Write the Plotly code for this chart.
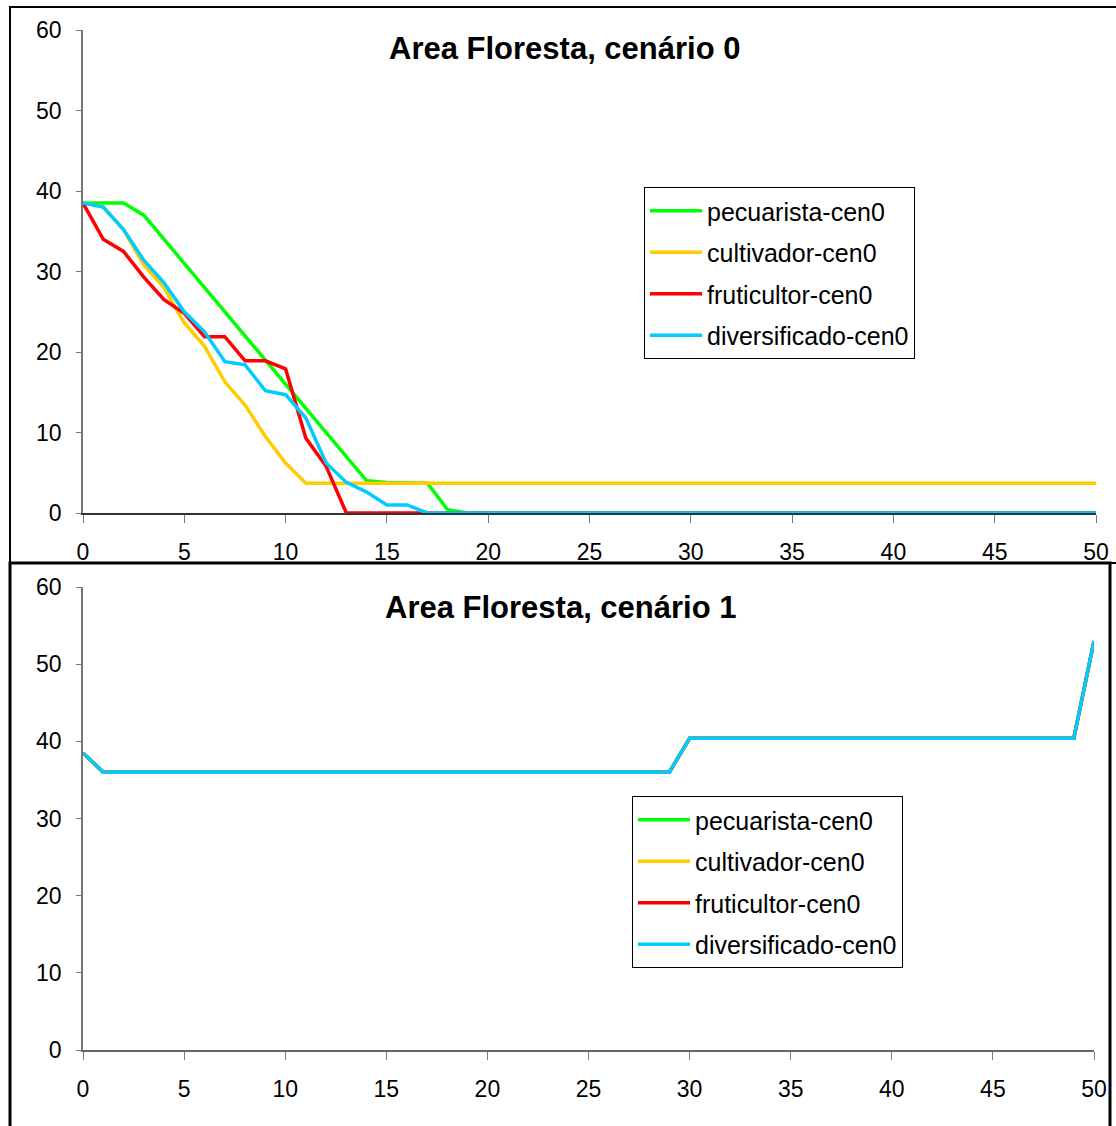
import plotly.graph_objects as go

W, H = 1116, 1126

years = list(range(0, 51))

# Top chart: cenário 0
pecuarista_c0 = [38.5, 38.5, 38.5, 37.0, 34.0, 31.0, 28.0, 25.0, 22.0, 19.0, 16.0, 13.0, 10.0, 7.0, 4.0, 3.8, 3.7, 3.7, 0.4] + [0.0] * 32
cultivador_c0 = [38.5, 38.0, 35.2, 30.8, 28.0, 23.6, 20.7, 16.3, 13.4, 9.5, 6.2, 3.7] + [3.7] * 39
fruticultor_c0 = [38.5, 34.0, 32.5, 29.3, 26.5, 24.8, 21.9, 21.9, 18.9, 18.9, 17.9, 9.3, 5.8] + [0.0] * 38
diversificado_c0 = [38.5, 38.0, 35.2, 31.4, 28.6, 25.0, 22.5, 18.8, 18.4, 15.2, 14.7, 11.8, 6.2, 3.8, 2.6, 1.0, 1.0] + [0.0] * 34

# Bottom chart: cenário 1 (all series coincide)
cen1 = [38.5] + [36.0] * 29 + [40.4] * 20 + [53.0]
pecuarista_c1 = cen1
cultivador_c1 = cen1
fruticultor_c1 = cen1
diversificado_c1 = cen1

names = ["pecuarista-cen0", "cultivador-cen0", "fruticultor-cen0", "diversificado-cen0"]
colors = ["#00FF00", "#FFCC00", "#FF0000", "#00CCFF"]
top_series = [pecuarista_c0, cultivador_c0, fruticultor_c0, diversificado_c0]
bot_series = [pecuarista_c1, cultivador_c1, fruticultor_c1, diversificado_c1]

title0 = "Area Floresta, cenário 0"
title1 = "Area Floresta, cenário 1"

FONT = "Liberation Sans, Arial, sans-serif"

fig = go.Figure()
for i, (n, c, s) in enumerate(zip(names, colors, top_series)):
    fig.add_trace(go.Scatter(x=years, y=s, mode="lines", name=n,
                             line=dict(color=c, width=3.5),
                             xaxis="x", yaxis="y", legend="legend",
                             legendgroup="t%d" % i))
for i, (n, c, s) in enumerate(zip(names, colors, bot_series)):
    fig.add_trace(go.Scatter(x=years, y=s, mode="lines", name=n,
                             line=dict(color=c, width=3.5),
                             xaxis="x2", yaxis="y2", legend="legend2",
                             legendgroup="b%d" % i))

def px(x):
    return x / W

def py(y):
    return 1 - y / H

def axis(linecolor, **kw):
    d = dict(showgrid=False, zeroline=False, showline=True, linecolor=linecolor,
             linewidth=1.5, ticks="outside", tickcolor="#777777", automargin=False,
             tickfont=dict(family=FONT, size=23, color="black"))
    d.update(kw)
    return d

legend_common = dict(xanchor="left", yanchor="top", bgcolor="white",
                     bordercolor="black", borderwidth=1,
                     font=dict(family=FONT, size=25, color="black"),
                     tracegroupgap=6, itemwidth=52)

fig.update_layout(
    template="none",
    width=W, height=H,
    margin=dict(l=0, r=0, t=0, b=0, pad=0),
    paper_bgcolor="white", plot_bgcolor="white",
    font=dict(family=FONT, color="black"),
    xaxis=axis("#333333", domain=[px(83), px(1096)], range=[0, 50], dtick=5, tick0=0,
               ticklen=8, ticklabelstandoff=10, anchor="y"),
    yaxis=axis("#777777", domain=[py(513), py(30)], range=[0, 60], dtick=10,
               ticklen=5, ticklabelstandoff=10, anchor="x"),
    xaxis2=axis("#666666", domain=[px(83), px(1094)], range=[0, 50], dtick=5, tick0=0,
                ticklen=8, ticklabelstandoff=10, anchor="y2"),
    yaxis2=axis("#777777", domain=[py(1050), py(587)], range=[0, 60], dtick=10,
                ticklen=5, ticklabelstandoff=10, anchor="x2"),
    legend=dict(x=px(644), y=py(187), **legend_common),
    legend2=dict(x=px(632), y=py(796), **legend_common),
    showlegend=True,
    annotations=[
        dict(text="<b>%s</b>" % title0, x=px(565), y=py(48), xref="paper", yref="paper",
             showarrow=False, xanchor="center", yanchor="middle",
             font=dict(family=FONT, size=31, color="black")),
        dict(text="<b>%s</b>" % title1, x=px(561), y=py(607), xref="paper", yref="paper",
             showarrow=False, xanchor="center", yanchor="middle",
             font=dict(family=FONT, size=31, color="black")),
    ],
    shapes=[
        dict(type="rect", xref="paper", yref="paper",
             x0=px(10), x1=1.02, y0=py(563), y1=py(7),
             line=dict(color="black", width=2), fillcolor="rgba(0,0,0,0)"),
        dict(type="rect", xref="paper", yref="paper",
             x0=px(10), x1=px(1110), y0=-0.02, y1=py(563),
             line=dict(color="black", width=3), fillcolor="rgba(0,0,0,0)"),
    ],
)

fig.write_html("out.html")
